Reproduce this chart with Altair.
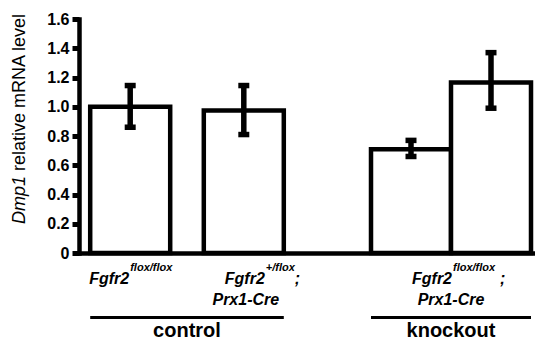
import altair as alt
import pandas as pd

# ---- data ----
bar_ids = ["ctrl_ff", "ctrl_het_cre", "ko_a", "ko_b"]
groups = ["control", "control", "knockout", "knockout"]
slot_start = [0.14, 1.56, 3.65, 4.65]          # bar slots, in bar-width units
means = [1.00, 0.975, 0.71, 1.165]
err_low = [0.86, 0.81, 0.66, 0.99]
err_high = [1.145, 1.145, 0.77, 1.37]

label_under = ["ctrl_ff", "ctrl_het_cre", "knockout"]
label_main = ["Fgfr2", "Fgfr2", "Fgfr2"]
label_sup = ["flox/flox", "+/flox", "flox/flox"]
label_sep = ["", ";", ";"]
label_line2 = ["", "Prx1-Cre", "Prx1-Cre"]

y_ticks = [0, 0.2, 0.4, 0.6, 0.8, 1.0, 1.2, 1.4, 1.6]

# ---- tables ----
bars = pd.DataFrame({"id": bar_ids, "group": groups, "start": slot_start,
                     "mean": means, "lo": err_low, "hi": err_high})
bars["end"] = bars["start"] + 1
bars["center"] = bars["start"] + 0.5

grp = bars.groupby("group", sort=False).agg(gstart=("start", "min"), gend=("end", "max")).reset_index()
grp["gcenter"] = (grp["gstart"] + grp["gend"]) / 2

anchor = {**dict(zip(bars["id"], bars["center"])), **dict(zip(grp["group"], grp["gcenter"]))}
labels = pd.DataFrame({"under": label_under, "main": label_main, "sup": label_sup,
                       "sep": label_sep, "line2": label_line2})
labels["ax"] = labels["under"].map(anchor)

# ---- styles ----
XS = alt.Scale(domain=[0, 5.7], nice=False, zero=False)
YS = alt.Scale(domain=[0, 1.6], nice=False)
SANS = "Liberation Sans, Arial"
label_dx = {
    "ctrl_ff": dict(main=-1, sup=0, sep=0, line2=0),
    "ctrl_het_cre": dict(main=21, sup=22, sep=51, line2=2),
    "knockout": dict(main=1, sup=2, sep=49, line2=0),
}

y_axis = alt.Axis(title=None, values=y_ticks, grid=False, labelOverlap=False, labelFlush=False,
                  labelExpr="datum.value == 0 ? '0' : format(datum.value, '.1f')",
                  labelFont=SANS, labelFontWeight="bold", labelFontSize=16, labelColor="black",
                  labelPadding=3, tickSize=7, tickWidth=5, tickColor="black",
                  domainColor="black", domainWidth=4.5, domainCap="square")
x_axis = alt.Axis(title=None, labels=False, ticks=False, grid=False,
                  domainColor="black", domainWidth=4.5, domainCap="square")


def X(field):
    return alt.X(field, type="quantitative", scale=XS, axis=x_axis)


def Y(field):
    return alt.Y(field, type="quantitative", scale=YS, axis=y_axis)


bar_layer = alt.Chart(bars).mark_bar(fill="white", stroke="black", strokeWidth=4.5).encode(
    x=X("start"), x2="end", y=Y("mean"), y2=alt.datum(0))

err_layer = alt.Chart(bars).mark_rule(color="black", strokeWidth=5.5).encode(
    x=X("center"), y=Y("lo"), y2="hi")

cap_layer = alt.Chart(bars).transform_fold(["lo", "hi"], as_=["kind", "val"]).mark_tick(
    orient="horizontal", size=11, thickness=5.5, color="black", opacity=1).encode(
    x=X("center"), y=Y("val"))

group_rule = alt.Chart(grp).mark_rule(color="black", strokeWidth=3).encode(
    x=X("gstart"), x2="gend", y=alt.value(298.5))

group_text = alt.Chart(grp).mark_text(font=SANS, fontWeight="bold", fontSize=20,
                                      baseline="alphabetic", align="center", color="black").encode(
    x=X("gcenter"), y=alt.value(317.7), text="group:N")

label_layers = []
for key, d in label_dx.items():
    sub = labels[labels["under"] == key]
    base = alt.Chart(sub)
    common = dict(font=SANS, fontWeight="bold", fontStyle="italic", color="black", baseline="alphabetic")
    label_layers.append(base.mark_text(align="right", fontSize=16, dx=d["main"], **common).encode(
        x=X("ax"), y=alt.value(265.3), text="main:N"))
    label_layers.append(base.mark_text(align="left", fontSize=11, dx=d["sup"], **common).encode(
        x=X("ax"), y=alt.value(252.3), text="sup:N"))
    if sub["sep"].iloc[0]:
        label_layers.append(base.mark_text(align="left", fontSize=16, dx=d["sep"], **common).encode(
            x=X("ax"), y=alt.value(265.3), text="sep:N"))
    if sub["line2"].iloc[0]:
        label_layers.append(base.mark_text(align="center", fontSize=16, dx=d["line2"], **common).encode(
            x=X("ax"), y=alt.value(286), text="line2:N"))

title_df = pd.DataFrame({"italic": ["Dmp1"], "rest": ["relative mRNA level"]})
title_it = alt.Chart(title_df).mark_text(angle=270, align="right", baseline="alphabetic",
                                         font=SANS, fontSize=18, fontStyle="italic", color="black").encode(
    x=alt.value(-54.5), y=alt.value(157), text="italic:N")
title_rest = alt.Chart(title_df).mark_text(angle=270, align="left", baseline="alphabetic", dx=5,
                                           font=SANS, fontSize=18, color="black").encode(
    x=alt.value(-54.5), y=alt.value(157), text="rest:N")

chart = alt.layer(bar_layer, err_layer, cap_layer, group_rule, group_text,
                  *label_layers, title_it, title_rest).properties(
    width=456, height=234,
    autosize=alt.AutoSizeParams(type="none"),
    padding={"left": 71, "top": 11, "right": 0, "bottom": 88},
).configure_view(strokeWidth=0)

chart.save("out.html", embed_options={"renderer": "svg", "actions": False})
